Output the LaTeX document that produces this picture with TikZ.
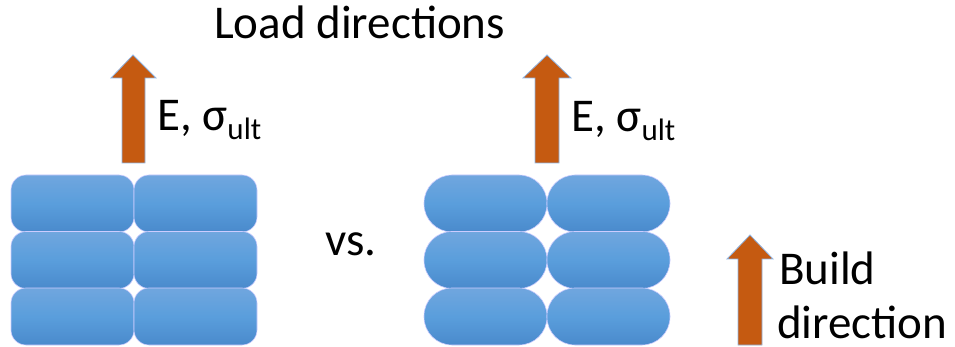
\documentclass[tikz,border=0pt]{standalone}
\usepackage{fontspec}
\setmainfont{Carlito}
\begin{document}
\begin{tikzpicture}[x=1pt,y=-1pt,
  brick/.style={draw=blue!20!white, line width=0.6pt, top color=boxtop, bottom color=boxbot, middle color=boxmid, inner sep=0pt, minimum width=123pt, minimum height=57pt},
  sqbrick/.style={brick, rounded corners=15pt},
  pillbrick/.style={brick, rounded corners=28pt},
  loadarrow/.style={fill=arrowor, draw=arrowedge, line width=0.8pt, line join=miter},
  lbl/.style={inner sep=0pt, anchor=base west, font=\fontsize{47}{52}\selectfont}
]
\definecolor{boxtop}{RGB}{112,166,222}
\definecolor{boxmid}{RGB}{90,158,220}
\definecolor{boxbot}{RGB}{74,138,204}
\definecolor{arrowor}{RGB}{197,90,17}
\definecolor{arrowedge}{RGB}{143,180,227}
\useasboundingbox (0,0) rectangle (955,347);

% left grid (rounded rectangles)
\foreach \r/\y in {1/203.5, 2/260, 3/316.5}{
  \node[sqbrick] (L\r a) at (72.5,\y) {};
  \node[sqbrick] (L\r b) at (195.5,\y) {};
}
% right grid (pill shapes)
\foreach \r/\y in {1/203.5, 2/260, 3/316.5}{
  \node[pillbrick] (R\r a) at (485.5,\y) {};
  \node[pillbrick] (R\r b) at (608.5,\y) {};
}

% arrows
\draw[loadarrow] (133,55) -- (156,78) -- (145,78) -- (145,163) -- (122,163) -- (122,78) -- (111,78) -- cycle;
\draw[loadarrow] (547,55) -- (571,78) -- (559,78) -- (559,163) -- (535,163) -- (535,78) -- (523,78) -- cycle;
\draw[loadarrow] (750,235) -- (773,259) -- (762,259) -- (762,345) -- (738,345) -- (738,259) -- (727,259) -- cycle;

% texts
\node[lbl] (load) at (214,39) {Load directions};
\node[lbl] (e1) at (157,131) {E, σ\raisebox{-9pt}{\fontsize{31}{31}\selectfont ult}};
\node[lbl] (e2) at (571,132) {E, σ\raisebox{-9pt}{\fontsize{31}{31}\selectfont ult}};
\node[lbl] (vs) at (325,256) {vs.};
\node[lbl] (build) at (779,284) {Build};
\node[lbl] (dir) at (777,338) {direction};
\end{tikzpicture}
\end{document}
